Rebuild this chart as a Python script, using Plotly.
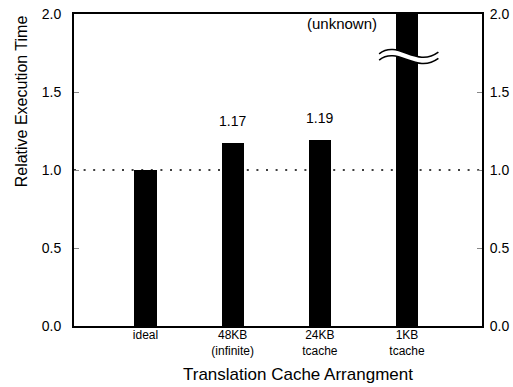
import plotly.graph_objects as go

# Data
categories = ["ideal", "48KB<br>(infinite)", "24KB<br>tcache", "1KB<br>tcache"]
rel_time = [1.00, 1.17, 1.19, 2.0]   # last bar is off the scale (unknown)
bar_labels = ["", "1.17", "1.19", ""]
y_ticks = [0.0, 0.5, 1.0, 1.5, 2.0]

FONT = "Liberation Sans, Arial, sans-serif"
xpos = list(range(len(categories)))

fig = go.Figure()
fig.add_trace(go.Bar(x=xpos, y=rel_time, width=0.255,
                     marker=dict(color="black", line=dict(width=0)),
                     showlegend=False, hoverinfo="skip"))
# invisible trace to carry the right-hand axis
fig.add_trace(go.Scatter(x=[xpos[0]], y=[0], yaxis="y2", mode="markers",
                         marker=dict(opacity=0), showlegend=False, hoverinfo="skip"))

# value labels over bars
for xi, v, lab in zip(xpos, rel_time, bar_labels):
    if lab:
        fig.add_annotation(x=xi, y=v, text=lab, showarrow=False, yshift=22,
                           font=dict(size=14, color="black", family=FONT))
fig.add_annotation(x=2.25, y=2.0, text="(unknown)", showarrow=False, yshift=1,
                   yanchor="top", font=dict(size=15, color="black", family=FONT))

# axis titles
fig.add_annotation(xref="paper", yref="paper", x=0.548, y=-0.157,
                   text="Translation Cache Arrangment", showarrow=False,
                   xanchor="center", yanchor="middle",
                   font=dict(size=17, color="black", family=FONT))
fig.add_annotation(xref="paper", yref="paper", x=-0.130, y=0.72,
                   text="Relative Execution Time", showarrow=False, textangle=-90,
                   xanchor="center", yanchor="middle",
                   font=dict(size=16, color="black", family=FONT))

# dotted reference at 1.0
fig.add_shape(type="line", xref="paper", x0=0, x1=1, yref="y", y0=1.0, y1=1.0,
              line=dict(color="black", width=1.6, dash="2px,7.6px"), layer="below")

# axis break across the off-scale bar
bx = xpos[3]
x0, x1 = bx - 0.32, bx + 0.36
top = (1.745, 1.84, 1.65, 1.755)
gap = 0.04
up = f"M {x0},{top[0]} C {bx-0.1},{top[1]} {bx+0.1},{top[2]} {x1},{top[3]}"
lo = (f"M {x0},{top[0]-gap} C {bx-0.1},{top[1]-gap} {bx+0.1},{top[2]-gap} "
      f"{x1},{top[3]-gap}")
band = (up + f" L {x1},{top[3]-gap} C {bx+0.1},{top[2]-gap} {bx-0.1},{top[1]-gap} "
        f"{x0},{top[0]-gap} Z")
fig.add_shape(type="path", path=band, xref="x", yref="y",
              fillcolor="white", line=dict(width=0))
for p in (up, lo):
    fig.add_shape(type="path", path=p, xref="x", yref="y",
                  line=dict(color="black", width=1.6))

yax = dict(range=[0, 2.0], tickvals=y_ticks, ticktext=[f"{t:.1f}" for t in y_ticks],
           ticks="inside", ticklen=5, tickcolor="#888", tickwidth=1,
           showgrid=False, zeroline=False, showline=True, linecolor="black", linewidth=2,
           automargin=False, tickfont=dict(size=14, color="black", family=FONT))

fig.update_layout(
    width=513, height=387,
    margin=dict(l=74, r=31, t=14, b=61),
    plot_bgcolor="white", paper_bgcolor="white",
    bargap=0,
    xaxis=dict(range=[-0.82, 3.86], tickvals=xpos, ticktext=categories,
               ticks="", showgrid=False, zeroline=False, automargin=False,
               showline=True, linecolor="black", linewidth=2, mirror=True,
               ticklabelstandoff=-3,
               tickfont=dict(size=12, color="black", family=FONT)),
    yaxis=dict(**yax, ticklabelstandoff=8),
    yaxis2=dict(**yax, overlaying="y", side="right", ticklabelstandoff=3),
)

fig.write_html("out.html")
